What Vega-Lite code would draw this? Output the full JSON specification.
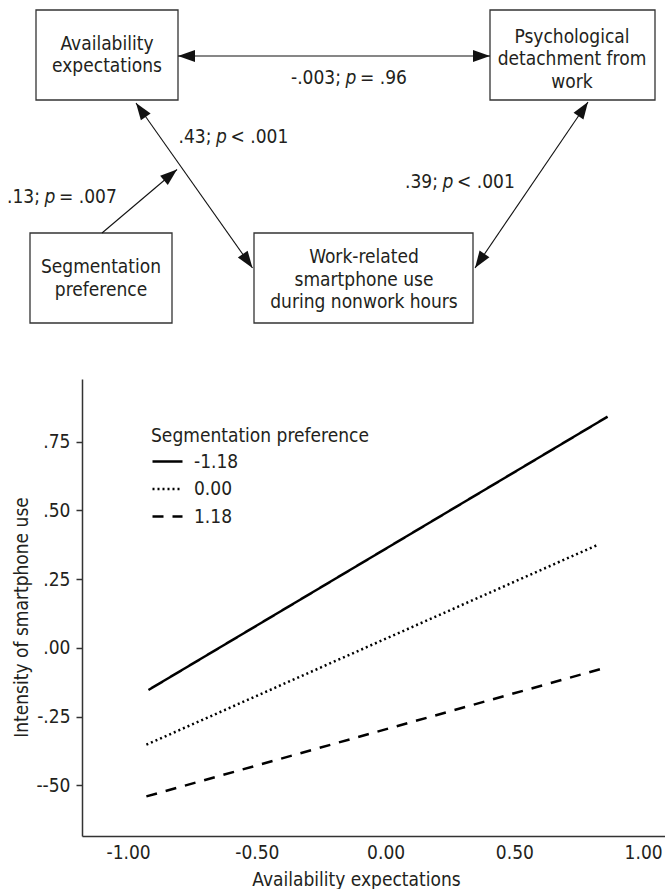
{
  "$schema": "https://vega.github.io/schema/vega-lite/v6.json",
  "padding": {"left": 7, "top": 0, "right": 0, "bottom": 0},
  "spacing": 49,
  "background": "white",
  "config": {
    "view": {"stroke": null},
    "font": "DejaVu Sans Condensed",
    "text": {"font": "DejaVu Sans Condensed", "fontSize": 19, "color": "#231f20"},
    "axis": {"labelFont": "DejaVu Sans Condensed", "titleFont": "DejaVu Sans Condensed", "labelFontSize": 19, "titleFontSize": 19, "labelColor": "#231f20", "titleColor": "#231f20", "titleFontWeight": "normal", "grid": false, "domainColor": "#333333", "domainWidth": 1.5, "tickColor": "#333333", "tickWidth": 1.5},
    "legend": {"labelFont": "DejaVu Sans Condensed", "titleFont": "DejaVu Sans Condensed"}
  },
  "vconcat": [
    {
      "width": 583,
      "height": 330,
      "layer": [
        {
          "data": {"values": [
            {"box": "Availability expectations", "x": 36, "x2": 178, "y": 10, "y2": 100},
            {"box": "Psychological detachment from work", "x": 490, "x2": 655, "y": 10, "y2": 100},
            {"box": "Segmentation preference", "x": 30, "x2": 172, "y": 233, "y2": 323},
            {"box": "Work-related smartphone use during nonwork hours", "x": 254, "x2": 473, "y": 233, "y2": 323}
          ]},
          "mark": {"type": "rect", "fill": "white", "stroke": "#333333", "strokeWidth": 1.3},
          "encoding": {
            "x": {"field": "x", "type": "quantitative", "scale": {"domain": [82, 665], "nice": false, "zero": false}, "axis": null},
            "x2": {"field": "x2"},
            "y": {"field": "y", "type": "quantitative", "scale": {"domain": [0, 330], "nice": false, "zero": false, "reverse": true}, "axis": null},
            "y2": {"field": "y2"}
          }
        },
        {
          "data": {"values": [
            {"x": 107, "y": 43.5, "lines": ["Availability", "expectations"]},
            {"x": 572, "y": 36.5, "lines": ["Psychological", "detachment from", "work"]},
            {"x": 101, "y": 267, "lines": ["Segmentation", "preference"]},
            {"x": 364, "y": 257, "lines": ["Work-related", "smartphone use", "during nonwork hours"]}
          ]},
          "mark": {"type": "text", "align": "center", "baseline": "middle", "lineHeight": 22.5},
          "encoding": {
            "x": {"field": "x", "type": "quantitative"},
            "y": {"field": "y", "type": "quantitative"},
            "text": {"field": "lines"}
          }
        },
        {
          "data": {"values": [
            {"path": "availability-detachment", "x": 178, "y": 56, "x2": 490, "y2": 56},
            {"path": "availability-smartphone", "x": 136, "y": 103, "x2": 252.5, "y2": 268},
            {"path": "segmentation-moderation", "x": 102, "y": 233, "x2": 177, "y2": 169.5},
            {"path": "detachment-smartphone", "x": 588, "y": 102, "x2": 475, "y2": 268}
          ]},
          "mark": {"type": "rule", "color": "#111111", "strokeWidth": 1.1},
          "encoding": {
            "x": {"field": "x", "type": "quantitative"},
            "y": {"field": "y", "type": "quantitative"},
            "x2": {"field": "x2"},
            "y2": {"field": "y2"}
          }
        },
        {
          "data": {"values": [
            {"x": 178, "y": 56, "ang": 270},
            {"x": 490, "y": 56, "ang": 90},
            {"x": 136, "y": 103, "ang": 325},
            {"x": 252.5, "y": 268, "ang": 145},
            {"x": 177, "y": 169.5, "ang": 50},
            {"x": 588, "y": 102, "ang": 34},
            {"x": 475, "y": 268, "ang": 214}
          ]},
          "mark": {"type": "point", "shape": "M0,0L-0.35,1L0.35,1Z", "size": 1156, "filled": true, "color": "#111111", "opacity": 1, "strokeWidth": 0},
          "encoding": {
            "x": {"field": "x", "type": "quantitative"},
            "y": {"field": "y", "type": "quantitative"},
            "angle": {"field": "ang", "type": "quantitative", "scale": null}
          }
        },
        {
          "data": {"values": [
            {"x": 351, "y": 78, "pre": "-.003;", "p": "p", "post": "= .96"},
            {"x": 221.5, "y": 137, "pre": ".43;", "p": "p", "post": "< .001"},
            {"x": 50, "y": 197, "pre": ".13;", "p": "p", "post": "= .007"},
            {"x": 448, "y": 182, "pre": ".39;", "p": "p", "post": "< .001"}
          ]},
          "layer": [
            {
              "mark": {"type": "text", "align": "right", "baseline": "middle", "dx": -10},
              "encoding": {"x": {"field": "x", "type": "quantitative"}, "y": {"field": "y", "type": "quantitative"}, "text": {"field": "pre"}}
            },
            {
              "mark": {"type": "text", "align": "center", "baseline": "middle", "fontStyle": "italic"},
              "encoding": {"x": {"field": "x", "type": "quantitative"}, "y": {"field": "y", "type": "quantitative"}, "text": {"field": "p"}}
            },
            {
              "mark": {"type": "text", "align": "left", "baseline": "middle", "dx": 9},
              "encoding": {"x": {"field": "x", "type": "quantitative"}, "y": {"field": "y", "type": "quantitative"}, "text": {"field": "post"}}
            }
          ]
        }
      ]
    },
    {
      "width": 583,
      "height": 457,
      "data": {"values": [
        {"sp": "-1.18", "ae": -0.921, "val": -0.153},
        {"sp": "-1.18", "ae": 0.862, "val": 0.841},
        {"sp": "0.00", "ae": -0.929, "val": -0.352},
        {"sp": "0.00", "ae": 0.824, "val": 0.375},
        {"sp": "1.18", "ae": -0.929, "val": -0.54},
        {"sp": "1.18", "ae": 0.865, "val": -0.069}
      ]},
      "mark": {"type": "line", "color": "black", "strokeWidth": 2.5},
      "encoding": {
        "x": {
          "field": "ae", "type": "quantitative",
          "scale": {"domain": [-1.179, 1.085], "nice": false, "zero": false},
          "axis": {"title": "Availability expectations", "values": [-1, -0.5, 0, 0.5, 1], "ticks": false, "tickSize": 0, "labelPadding": 7, "titlePadding": 8, "titleX": 274,
                   "labelExpr": "datum.value == -1 ? '-1.00' : datum.value == -0.5 ? '-0.50' : datum.value == 0 ? '0.00' : datum.value == 0.5 ? '0.50' : '1.00'"}
        },
        "y": {
          "field": "val", "type": "quantitative",
          "scale": {"domain": [-0.684, 0.978], "nice": false, "zero": false},
          "axis": {"title": "Intensity of smartphone use", "values": [-0.5, -0.25, 0, 0.25, 0.5, 0.75], "tickSize": 6, "labelPadding": 6, "titlePadding": 4, "titleY": 238,
                   "labelExpr": "datum.value == 0.75 ? '.75' : datum.value == 0.5 ? '.50' : datum.value == 0.25 ? '.25' : datum.value == 0 ? '.00' : datum.value == -0.25 ? '-.25' : '--50'"}
        },
        "strokeDash": {
          "field": "sp", "type": "nominal",
          "scale": {"domain": ["-1.18", "0.00", "1.18"], "range": [[1, 0], [2, 3], [11, 9]]},
          "legend": {"title": "Segmentation preference", "orient": "none", "legendX": 69, "legendY": 427, "titleFontSize": 19, "titleFontWeight": "normal", "titleColor": "#231f20", "titleLimit": 0, "labelFontSize": 19, "labelColor": "#231f20", "symbolType": "stroke", "symbolSize": 900, "symbolStrokeWidth": 2.5, "symbolStrokeColor": "black", "rowPadding": 0.5, "titlePadding": -1, "labelOffset": 10}
        }
      }
    }
  ]
}
